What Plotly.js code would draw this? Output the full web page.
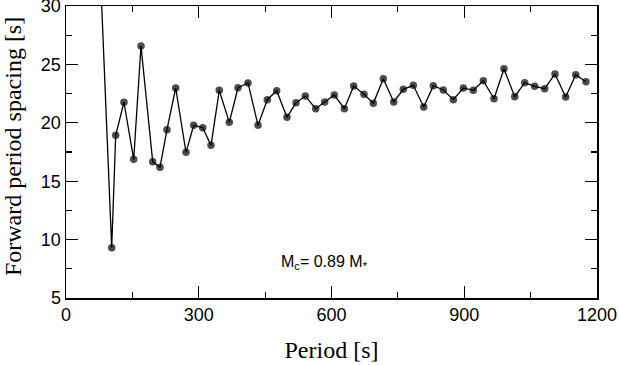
<!DOCTYPE html>
<html><head><meta charset="utf-8">
<script src="https://cdn.plot.ly/plotly-3.0.1.min.js"></script>
<style>html,body{margin:0;padding:0;background:#fff}#chart{width:619px;height:365px}</style>
</head><body><div id="chart"></div>
<script>
const period = [70, 103.3, 112.3, 131, 153, 169.5, 195.9, 212.4, 228.2, 247.9, 271.2, 288.6, 308.9, 327.7, 346.4, 369, 388.7, 411.3, 433.9,
  454.9, 476.1, 499.4, 519.8, 540.8, 564.3, 584.6, 606.3, 629, 650.2, 673.4, 694.5, 717.1, 740.6, 762.3, 784.9, 808.4, 830.1,
  852.7, 875.3, 897.9, 920.5, 943.1, 967.2, 989.8, 1014, 1036.6, 1059.2, 1081.8, 1105.1, 1129.2, 1151.9, 1175.1];
const spacing = [39.8, 9.31, 18.93, 21.76, 16.87, 26.58, 16.67, 16.19, 19.41, 22.98, 17.47, 19.79, 19.58, 18.07, 22.78, 20.04, 23.0, 23.41, 19.79,
  21.98, 22.75, 20.47, 21.72, 22.29, 21.21, 21.78, 22.38, 21.21, 23.15, 22.44, 21.67, 23.78, 21.78, 22.87, 23.21, 21.35, 23.18,
  22.81, 21.98, 22.98, 22.78, 23.6, 22.06, 24.63, 22.23, 23.43, 23.12, 22.92, 24.18, 22.21, 24.12, 23.52];
const xTicks = [0, 300, 600, 900, 1200];
const yTicks = [5, 10, 15, 20, 25, 30];
const xTitle = 'Period [s]';
const yTitle = 'Forward period spacing [s]';
const label = 'M<sub>c</sub>= 0.89 M<sub>*</sub>';
const labelPos = [585, 8.0];

const markerSize = period.map((p, i) => i === 0 ? 0 : 7.5);

const axisCommon = {
  showgrid: false, zeroline: false, showline: true, linecolor: '#000', linewidth: 1.5,
  ticks: 'inside', ticklen: 12, tickwidth: 1.2, tickcolor: '#000', mirror: 'allticks',
  tickfont: {family: 'Liberation Sans, Arial, sans-serif', size: 18, color: '#000'},
  ticklabeloverflow: 'allow',
  fixedrange: true
};
const titleFont = {family: 'Liberation Serif, Times New Roman, serif', size: 24, color: '#000'};

const layout = {
  width: 619, height: 365,
  margin: {l: 66, r: 22, t: 6, b: 67},
  paper_bgcolor: '#fff', plot_bgcolor: '#fff',
  showlegend: false,
  xaxis: Object.assign({}, axisCommon, {
    range: [0, 1200], tickmode: 'array', tickvals: xTicks, ticktext: xTicks.map(String),
    minor: {ticks: 'inside', ticklen: 6, tickwidth: 1.2, tickcolor: '#000', dtick: 150, tick0: 0},
    title: {text: xTitle, font: titleFont, standoff: 17}
  }),
  yaxis: Object.assign({}, axisCommon, {
    range: [5, 30], tickmode: 'array', tickvals: yTicks, ticktext: yTicks.map(String),
    minor: {ticks: 'inside', ticklen: 6, tickwidth: 1.2, tickcolor: '#000', dtick: 2.5, tick0: 0}
  }),
  annotations: [{
    x: labelPos[0], y: labelPos[1], xref: 'x', yref: 'y', text: label, showarrow: false,
    font: {family: 'Liberation Sans, Arial, sans-serif', size: 16, color: '#000'}
  }, {
    x: -0.1, y: 0.52, xref: 'paper', yref: 'paper', text: yTitle, showarrow: false,
    textangle: -90, xanchor: 'center', yanchor: 'middle', font: titleFont
  }]
};

Plotly.newPlot('chart', [{
  x: period, y: spacing, type: 'scatter', mode: 'lines+markers', cliponaxis: true,
  line: {color: '#000', width: 1.3},
  marker: {color: '#000', size: markerSize, line: {width: 0}}
}], layout, {staticPlot: true});
</script></body></html>
